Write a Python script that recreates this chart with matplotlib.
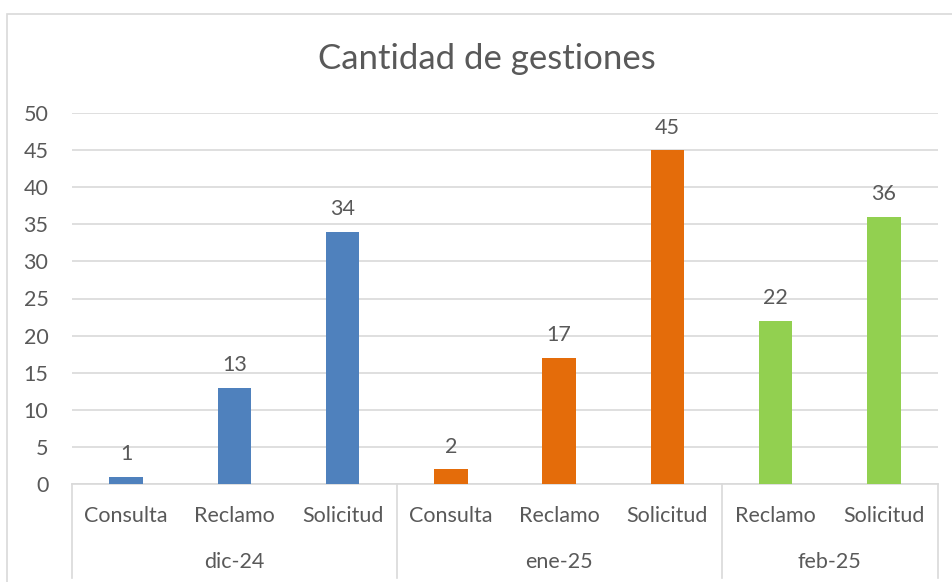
import matplotlib.pyplot as plt
from matplotlib.patches import Rectangle

# data
months = ['dic-24', 'ene-25', 'feb-25']
tipos = [['Consulta', 'Reclamo', 'Solicitud'],
         ['Consulta', 'Reclamo', 'Solicitud'],
         ['Reclamo', 'Solicitud']]
valores = [[1, 13, 34],
           [2, 17, 45],
           [22, 36]]
colores = ['#4F81BD', '#E46C0A', '#92D050']

plt.rcParams['font.family'] = ['Lato', 'DejaVu Sans']
txt = '#595959'
grid = '#D9D9D9'
fs = 15.5

fig = plt.figure(figsize=(9.52, 5.82), dpi=100)
ax = fig.add_axes([72 / 952, 1 - 484 / 582, (938 - 72) / 952, (484 - 113) / 582])

# outer chart frame (cropped on right and bottom in the reference)
fig.patches.append(Rectangle((7 / 952, -0.1), 1.0, 1 - 14 / 582 + 0.1,
                             transform=fig.transFigure, fill=False,
                             edgecolor=grid, linewidth=1.2))

pos = 0
bounds = [-0.5]
for g, (m, labs, vals) in enumerate(zip(months, tipos, valores)):
    xs = list(range(pos, pos + len(vals)))
    ax.bar(xs, vals, width=0.31, color=colores[g], zorder=3)
    for x, v, lab in zip(xs, vals, labs):
        ax.annotate(str(v), (x, v), xytext=(0, 9), textcoords='offset points',
                    ha='center', va='bottom', fontsize=fs, color=txt)
        ax.text(x, -0.085, lab, transform=ax.get_xaxis_transform(),
                ha='center', va='center', fontsize=fs, color=txt)
    ax.text((xs[0] + xs[-1]) / 2, -0.21, m, transform=ax.get_xaxis_transform(),
            ha='center', va='center', fontsize=fs, color=txt)
    pos += len(vals)
    bounds.append(pos - 0.5)

# group separators below the axis
trans = ax.get_xaxis_transform()
for b in bounds:
    ax.plot([b, b], [0, -0.253], transform=trans, color=grid, lw=1.2,
            clip_on=False, zorder=1)

ax.set_xlim(-0.5, pos - 0.5)
ax.set_ylim(0, 50)
ax.set_yticks(range(0, 51, 5))
ax.set_xticks([])
ax.tick_params(axis='y', length=0, pad=17, labelsize=fs, labelcolor=txt)
ax.yaxis.grid(True, color=grid, lw=1.2, zorder=0)
for s in ['top', 'right', 'left']:
    ax.spines[s].set_visible(False)
ax.spines['bottom'].set_color(grid)
ax.spines['bottom'].set_linewidth(1.2)

fig.text(487 / 952, 1 - 59 / 582, 'Cantidad de gestiones', ha='center',
         va='center', fontsize=25, color=txt)

fig.savefig('out.png', dpi=100)
